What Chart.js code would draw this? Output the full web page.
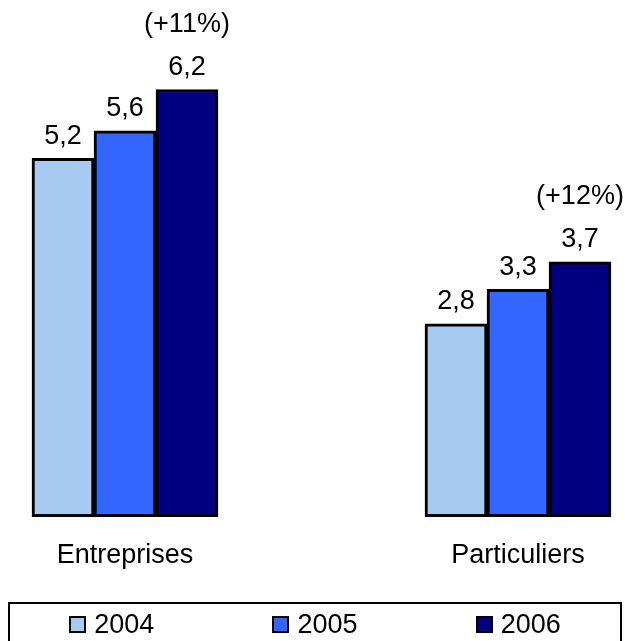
<!DOCTYPE html>
<html lang="fr">
<head>
<meta charset="utf-8">
<title>Entreprises / Particuliers 2004-2006</title>
<script src="https://cdn.jsdelivr.net/npm/chart.js@4.4.1/dist/chart.umd.min.js"></script>
<style>
  html, body { margin: 0; padding: 0; background: #fff; overflow: hidden; }
  #wrap { position: relative; width: 625px; height: 641px; }
  #legend {
    position: absolute; left: 8px; top: 602px; width: 614px; height: 60px;
    box-sizing: border-box; border: 2px solid #000; padding-top: 7px;
    display: flex; justify-content: space-around; align-items: flex-start;
    font: 27px "Liberation Sans", Arial, sans-serif; color: #000;
  }
  #legend .item { display: flex; align-items: center; line-height: 26px; }
  #legend .swatch { width: 17px; height: 17px; box-sizing: border-box; border: 2px solid #000; margin-right: 8px; }
</style>
</head>
<body>
<div id="wrap">
  <canvas id="chart" width="625" height="641"></canvas>
  <div id="legend"></div>
</div>
<script>
const categories = ['Entreprises', 'Particuliers'];
const years = ['2004', '2005', '2006'];
const values2004 = [5.2, 2.8];
const values2005 = [5.6, 3.3];
const values2006 = [6.2, 3.7];
const growth2006 = ['(+11%)', '(+12%)'];
const yearColors = ['#A6CAF0', '#3366FF', '#000080'];

const FONT_FAMILY = '"Liberation Sans", Arial, sans-serif';
const FONT = '27px ' + FONT_FAMILY;
const fmt = v => v.toFixed(1).replace('.', ',');

// value above every bar, growth rate above the last year
const barLabels = {
    id: 'barLabels',
    afterDatasetsDraw(chart) {
        const ctx = chart.ctx;
        const last = chart.data.datasets.length - 1;
        ctx.save();
        ctx.font = FONT;
        ctx.fillStyle = '#000';
        ctx.textAlign = 'center';
        ctx.textBaseline = 'middle';
        chart.data.datasets.forEach((ds, di) => {
            chart.getDatasetMeta(di).data.forEach((bar, i) => {
                ctx.fillText(fmt(ds.data[i]), bar.x, bar.y - 22);
                if (di === last) ctx.fillText(growth2006[i], bar.x, bar.y - 65);
            });
        });
        ctx.restore();
    }
};

const series = [values2004, values2005, values2006];

const chart = new Chart(document.getElementById('chart'), {
    type: 'bar',
    data: {
        labels: categories,
        datasets: series.map((vals, i) => ({
            label: years[i],
            data: vals,
            backgroundColor: yearColors[i],
            borderColor: '#000',
            borderWidth: 3,
            borderSkipped: false,
            barThickness: 62,
            clip: false
        }))
    },
    options: {
        responsive: false,
        animation: false,
        layout: { padding: { left: 125, right: 107, top: 0, bottom: 46 } },
        plugins: { legend: { display: false }, tooltip: { enabled: false } },
        scales: {
            x: {
                offset: false,
                grid: { display: false, drawTicks: false },
                border: { display: false },
                ticks: { color: '#000', font: { family: FONT_FAMILY, size: 27 }, padding: 23, maxRotation: 0, autoSkip: false }
            },
            y: { display: false, min: 0, max: 7.5 }
        }
    },
    plugins: [barLabels]
});

// legend built from the chart's own legend items
const legendEl = document.getElementById('legend');
chart.options.plugins.legend.labels.generateLabels(chart).forEach(item => {
    const el = document.createElement('div');
    el.className = 'item';
    const sw = document.createElement('span');
    sw.className = 'swatch';
    sw.style.background = item.fillStyle;
    el.appendChild(sw);
    el.appendChild(document.createTextNode(item.text));
    legendEl.appendChild(el);
});
</script>
</body>
</html>
